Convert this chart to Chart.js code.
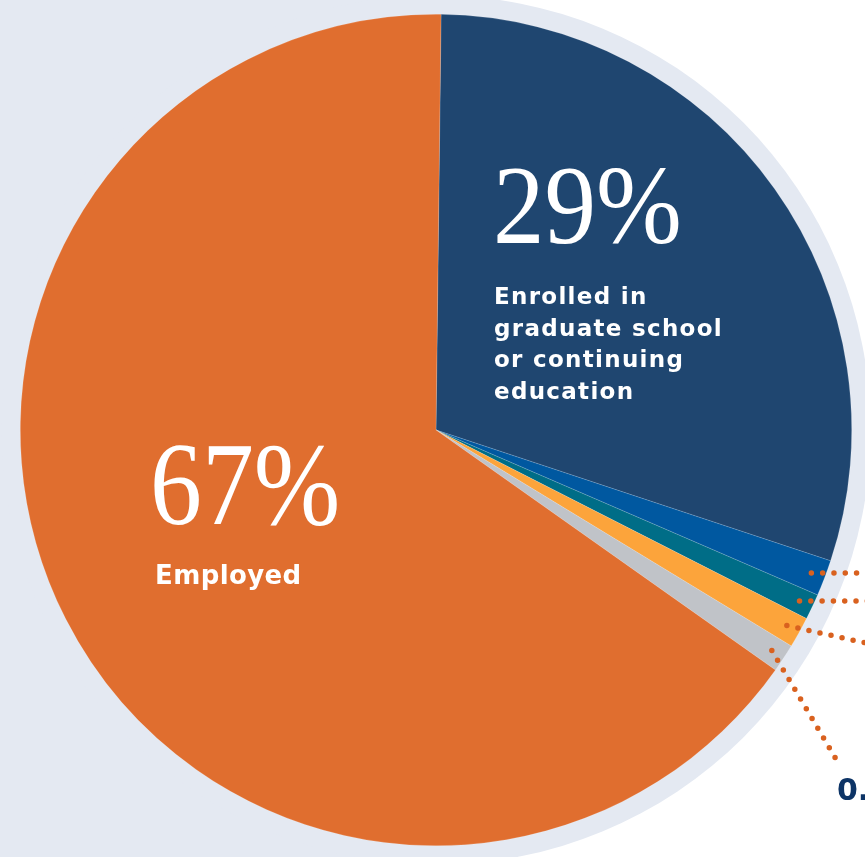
<!DOCTYPE html>
<html>
<head>
<meta charset="utf-8">
<script src="https://cdn.jsdelivr.net/npm/chart.js@4"></script>
<style>
  body { margin: 0; background: #ffffff; overflow: hidden; }
  #wrap { width: 865px; height: 857px; position: relative; }
</style>
</head>
<body>
<div id="wrap"><canvas id="pieChart" width="865" height="857"></canvas></div>
<script>
// slices, clockwise from the top
const labels = ['Enrolled in graduate school or continuing education', 'Other 1', 'Other 2', 'Other 3', 'Other 4', 'Employed'];
const shares = [29.9, 1.4, 1.0, 1.2, 1.1, 65.4];
const colors = ['#1f4670', '#0058a0', '#006d87', '#fca43b', '#c0c3c8', '#e06e2f'];

// big labels drawn inside the two main slices
const bigLabels = ['29%', '67%'];
const subLabels = [['Enrolled in', 'graduate school', 'or continuing', 'education'], ['Employed']];

const ringColor = '#e4e9f2';
const leaderColor = '#d9611f';
const serif = '"Liberation Serif", "Times New Roman", Times, serif';

// background: light panel on the left + ring around the pie
const backdrop = {
  id: 'backdrop',
  beforeDraw(chart) {
    const ctx = chart.ctx;
    const arc = chart.getDatasetMeta(0).data[0];
    ctx.save();
    ctx.fillStyle = ringColor;
    ctx.fillRect(0, 0, arc.x, chart.height);
    ctx.beginPath();
    ctx.arc(arc.x, arc.y, arc.outerRadius + 19, 0, Math.PI * 2);
    ctx.fill();
    ctx.restore();
  }
};

// dotted leaders for the small slices and the text labels
const annotate = {
  id: 'annotate',
  afterDraw(chart) {
    const ctx = chart.ctx;
    const arcs = chart.getDatasetMeta(0).data;
    const cx = arcs[0].x, cy = arcs[0].y, R = arcs[0].outerRadius;

    ctx.save();
    ctx.strokeStyle = leaderColor;
    ctx.lineWidth = 5.5;
    ctx.lineCap = 'round';
    ctx.setLineDash([0, 11.3]);
    // small slices are indices 1..4
    const ends = [
      (p) => [chart.width + 10, p[1]],
      (p) => [chart.width + 10, p[1]],
      (p) => [chart.width + 10, p[1] + 0.22 * (chart.width + 10 - p[0])],
      (p) => [p[0] + 65, p[1] + 110]
    ];
    for (let i = 1; i <= 4; i++) {
      const a = arcs[i];
      const mid = (a.startAngle + a.endAngle) / 2;
      const p = [cx + Math.cos(mid) * (R - 14), cy + Math.sin(mid) * (R - 14)];
      const e = ends[i - 1](p);
      ctx.beginPath();
      ctx.moveTo(p[0], p[1]);
      ctx.lineTo(e[0], e[1]);
      ctx.stroke();
    }
    ctx.setLineDash([]);

    // big percentages
    ctx.fillStyle = '#ffffff';
    ctx.textBaseline = 'alphabetic';
    ctx.save();
    ctx.translate(cx + 57, cy - 187);
    ctx.scale(0.92, 1);
    ctx.font = '112px ' + serif;
    ctx.fillText(bigLabels[0], 0, 0);
    ctx.restore();

    ctx.save();
    ctx.translate(cx - 286, cy + 94);
    ctx.scale(0.88, 1);
    ctx.font = '118px ' + serif;
    ctx.fillText(bigLabels[1], 0, 0);
    ctx.restore();

    ctx.letterSpacing = '1.3px';
    ctx.font = 'bold 23px "DejaVu Sans"';
    subLabels[0].forEach((line, k) => ctx.fillText(line, cx + 58, cy - 126 + k * 31.5));
    ctx.letterSpacing = '0.4px';
    ctx.font = 'bold 26px "DejaVu Sans"';
    ctx.fillText(subLabels[1][0], cx - 281, cy + 154);

    // cut-off label of the last small slice
    ctx.letterSpacing = '0px';
    ctx.fillStyle = '#0d3466';
    ctx.font = 'bold 30px "DejaVu Sans"';
    ctx.fillText('0.', cx + 401, cy + 370);
    ctx.restore();
  }
};

function drawPie() {
  const ctx = document.getElementById('pieChart').getContext('2d');
  return new Chart(ctx, {
    type: 'pie',
    data: {
      labels: labels,
      datasets: [{
        data: shares,
        backgroundColor: colors,
        borderColor: 'rgba(255,255,255,0.25)',
        borderWidth: 0.6
      }]
    },
    options: {
      responsive: false,
      animation: false,
      rotation: 0.7,
      layout: { padding: { left: 20, right: 13, top: 14, bottom: 11 } },
      plugins: {
        legend: { display: false },
        tooltip: { enabled: false }
      }
    },
    plugins: [backdrop, annotate]
  });
}

Promise.all([
  document.fonts.load('112px "Liberation Serif"'),
  document.fonts.load('bold 23px "DejaVu Sans"')
]).catch(() => {}).then(drawPie);
</script>
</body>
</html>
